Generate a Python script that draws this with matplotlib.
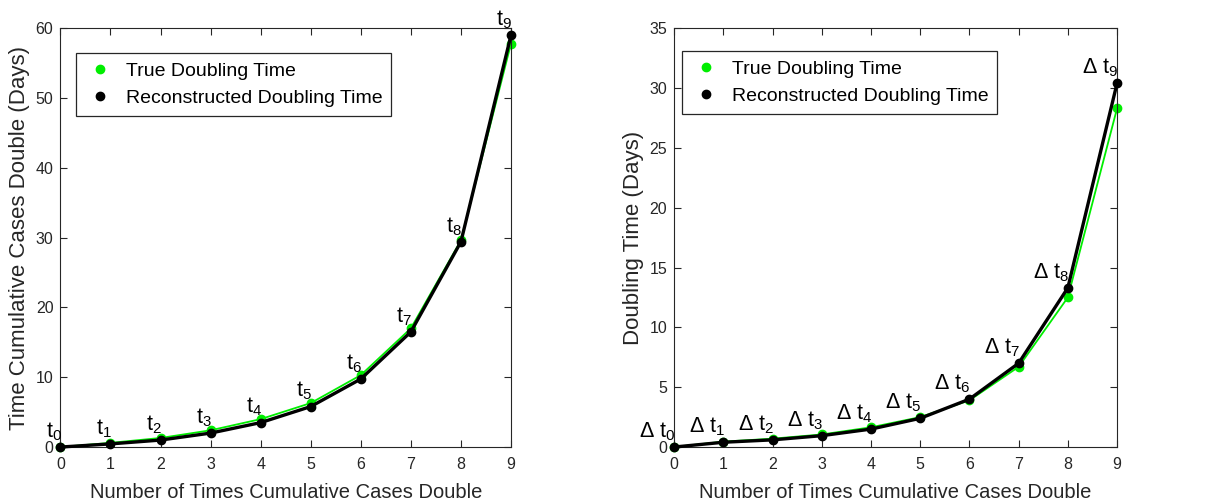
import matplotlib
matplotlib.use("Agg")
import matplotlib.pyplot as plt
from matplotlib.lines import Line2D

plt.rcParams['font.family'] = ['Liberation Sans', 'DejaVu Sans']
plt.rcParams['mathtext.default'] = 'regular'

n_doublings = [0, 1, 2, 3, 4, 5, 6, 7, 8, 9]

# cumulative time at which cases double (days)
cum_true = [0, 0.6, 1.3, 2.4, 4.0, 6.3, 10.3, 17.0, 29.6, 57.8]
cum_recon = [0, 0.45, 1.0, 2.0, 3.5, 5.8, 9.75, 16.5, 29.4, 59.0]

# time between successive doublings (days)
dt_true = [0, 0.45, 0.7, 1.05, 1.65, 2.5, 3.9, 6.7, 12.5, 28.3]
dt_recon = [0, 0.4, 0.6, 0.95, 1.5, 2.4, 4.0, 7.0, 13.3, 30.4]

green = '#00ee00'
axcol = '#262626'


def draw_panel(ax, y_true, y_recon, labels, ymax, ylabel, leg_anchor):
    ax.plot(n_doublings, y_true, color=green, lw=1.3, marker='o', ms=6,
            zorder=2, clip_on=False)
    ax.plot(n_doublings, y_recon, color='black', lw=2.4, marker='o', ms=6,
            zorder=3, clip_on=False)
    for x, y, lab in zip(n_doublings, y_recon, labels):
        ax.annotate(lab, (x, y), xytext=(1, 3), textcoords='offset points',
                    ha='right', va='bottom', fontsize=15.5, zorder=4)
    ax.set_xlim(0, 9)
    ax.set_ylim(0, ymax)
    ax.set_xticks(n_doublings)
    ax.set_xlabel('Number of Times Cumulative Cases Double', fontsize=14.5,
                  color=axcol, labelpad=8)
    ax.set_ylabel(ylabel, fontsize=16, color=axcol, labelpad=4)
    ax.tick_params(direction='in', top=True, right=True, labelsize=11.5,
                   colors=axcol, length=5)
    ax.tick_params(axis='x', pad=7)
    ax.tick_params(axis='y', pad=5)
    for s in ax.spines.values():
        s.set_color(axcol)
        s.set_linewidth(0.8)
    handles = [
        Line2D([], [], ls='none', marker='o', ms=6, color=green),
        Line2D([], [], ls='none', marker='o', ms=6, color='black'),
    ]
    leg = ax.legend(handles, ['True Doubling Time', 'Reconstructed Doubling Time'],
                    loc='upper left', bbox_to_anchor=leg_anchor, borderaxespad=0,
                    fontsize=14, fancybox=False, edgecolor=axcol, framealpha=1,
                    handlelength=1.6, handletextpad=0.5, borderpad=0.45,
                    labelspacing=0.5)
    leg.get_frame().set_linewidth(0.9)


fig = plt.figure(figsize=(12.08, 5.04), dpi=100)
ax1 = fig.add_axes([0.050, 0.113, 0.373, 0.831])
ax2 = fig.add_axes([0.558, 0.113, 0.3667, 0.831])

t_labels = ['t$_{%d}$' % i for i in n_doublings]
dt_labels = ['\u0394 t$_{%d}$' % i for i in n_doublings]

draw_panel(ax1, cum_true, cum_recon, t_labels, 60,
           'Time Cumulative Cases Double (Days)', (0.035, 0.94))
draw_panel(ax2, dt_true, dt_recon, dt_labels, 35, 'Doubling Time (Days)',
           (0.018, 0.945))

fig.savefig('out.png', dpi=100)
